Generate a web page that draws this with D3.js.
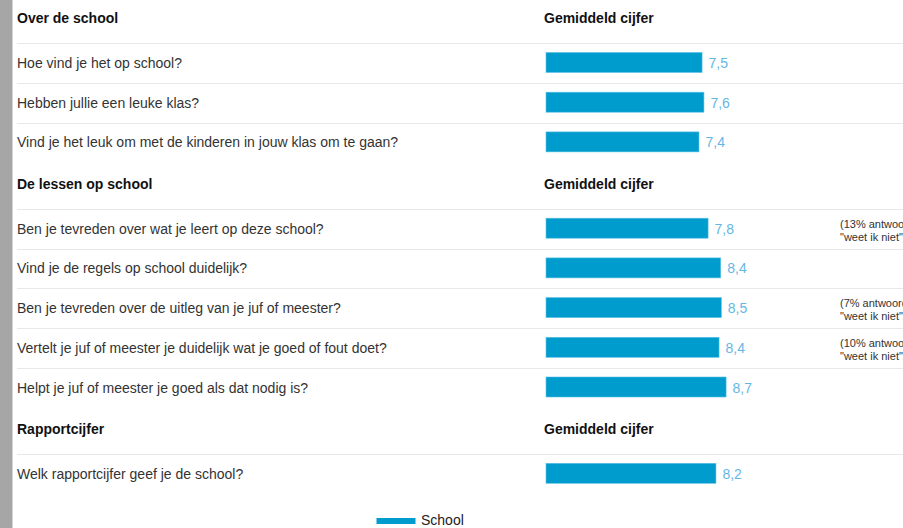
<!DOCTYPE html>
<html>
<head>
<meta charset="utf-8">
<script src="https://cdn.jsdelivr.net/npm/d3@7"></script>
<style>
	body { margin: 0; background: #fff; }
	svg { display: block; font-family: "Liberation Sans", Arial, sans-serif; }
</style>
</head>
<body>
<div id="chart"></div>
<script>
// data
const sections = ['Over de school', 'De lessen op school', 'Rapportcijfer'];
const columnTitle = 'Gemiddeld cijfer';
const questions = [
	'Hoe vind je het op school?',
	'Hebben jullie een leuke klas?',
	'Vind je het leuk om met de kinderen in jouw klas om te gaan?',
	'Ben je tevreden over wat je leert op deze school?',
	'Vind je de regels op school duidelijk?',
	'Ben je tevreden over de uitleg van je juf of meester?',
	'Vertelt je juf of meester je duidelijk wat je goed of fout doet?',
	'Helpt je juf of meester je goed als dat nodig is?',
	'Welk rapportcijfer geef je de school?'
];
const questionSection = [0, 0, 0, 1, 1, 1, 1, 1, 2];
const schoolValues = [7.54, 7.63, 7.39, 7.83, 8.44, 8.47, 8.36, 8.70, 8.21];
const notePercent = [null, null, null, 13, null, 7, 10, null, null];
const seriesName = 'School';

const width = 903, height = 528;
const headerH = 46.6, rowH = 39.7, startY = -3.3;
const barColor = '#009ccd';

const svg = d3.select('#chart')
	.append('svg')
		.attr('width', width)
		.attr('height', height);

// gray strip on the left
svg.append('rect')
	.attr('x', 0).attr('y', 0)
	.attr('width', 12).attr('height', height)
	.attr('fill', '#a6a6a6');
svg.append('rect')
	.attr('x', 12).attr('y', 0)
	.attr('width', 1).attr('height', height)
	.attr('fill', '#d4d4d4');

// build rows with section headers
const rows = [];
let y = startY;
sections.forEach((s, si) => {
	rows.push({ type: 'header', label: s, y: y });
	y += headerH;
	questions.forEach((q, qi) => {
		if (questionSection[qi] !== si) return;
		rows.push({ type: 'row', label: q, value: schoolValues[qi], note: notePercent[qi], y: y });
		y += rowH;
	});
});

const xScale = d3.scaleLinear()
	.domain([0, 10])
	.range([546, 753]);

const fmt = v => d3.format('.1f')(v).replace('.', ',');

// headers
const headers = rows.filter(r => r.type === 'header');
svg.selectAll('.section')
	.data(headers)
	.join('text')
		.attr('x', 17)
		.attr('y', d => d.y + 21.6)
		.attr('dy', '0.35em')
		.attr('font-size', 14)
		.attr('font-weight', 'bold')
		.attr('fill', '#111')
		.text(d => d.label);
svg.selectAll('.coltitle')
	.data(headers)
	.join('text')
		.attr('x', 544)
		.attr('y', d => d.y + 21.6)
		.attr('dy', '0.35em')
		.attr('font-size', 14)
		.attr('font-weight', 'bold')
		.attr('fill', '#111')
		.text(columnTitle);

const items = rows.filter(r => r.type === 'row');

// separator lines
svg.selectAll('.sep')
	.data(items)
	.join('line')
		.attr('x1', 17)
		.attr('x2', width)
		.attr('y1', d => Math.round(d.y) + 0.5)
		.attr('y2', d => Math.round(d.y) + 0.5)
		.attr('stroke', '#e8e8e8')
		.attr('stroke-width', 1);

// question labels
svg.selectAll('.q')
	.data(items)
	.join('text')
		.attr('x', 17)
		.attr('y', d => d.y + 19.8)
		.attr('dy', '0.35em')
		.attr('font-size', 14)
		.attr('fill', '#333')
		.text(d => d.label);

// bars
svg.selectAll('.bar')
	.data(items)
	.join('rect')
		.attr('x', xScale(0))
		.attr('y', d => d.y + 9.2)
		.attr('width', d => xScale(d.value) - xScale(0))
		.attr('height', 20)
		.attr('fill', barColor)
		.attr('stroke', '#5cc0e6')
		.attr('stroke-width', 0.6);

// value labels
svg.selectAll('.val')
	.data(items)
	.join('text')
		.attr('x', d => xScale(d.value) + 6.5)
		.attr('y', d => d.y + 19.8)
		.attr('dy', '0.35em')
		.attr('font-size', 14)
		.attr('fill', '#66b6e4')
		.text(d => fmt(d.value));

// notes on the right
const notes = svg.selectAll('.note')
	.data(items.filter(d => d.note !== null))
	.join('text')
		.attr('x', 840)
		.attr('y', d => d.y + 22)
		.attr('font-size', 11)
		.attr('fill', '#333');
notes.append('tspan')
	.attr('x', 840)
	.attr('dy', '-0.3em')
	.text(d => `(${d.note}% antwoordde`);
notes.append('tspan')
	.attr('x', 840)
	.attr('dy', '1.2em')
	.text('"weet ik niet")');

// legend
svg.append('rect')
	.attr('x', 376.5).attr('y', 518)
	.attr('width', 39).attr('height', 6)
	.attr('fill', barColor);
svg.append('text')
	.attr('x', 421)
	.attr('y', 520.5)
	.attr('dy', '0.35em')
	.attr('font-size', 14)
	.attr('fill', '#222')
	.text(seriesName);
</script>
</body>
</html>
